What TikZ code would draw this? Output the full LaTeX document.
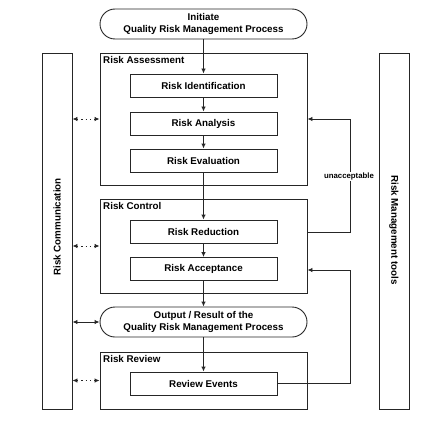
\documentclass[tikz,border=0pt]{standalone}
\usepackage{fontspec}
\setmainfont{Liberation Sans}
\usetikzlibrary{arrows.meta}
\begin{document}
\begin{tikzpicture}[x=1pt,y=1pt,
  every node/.style={font=\fontsize{9.8}{11.3}\selectfont\bfseries},
  ln/.style={draw=black!85,line width=0.9pt},
  frame/.style={ln,rectangle,inner sep=0pt,anchor=center},
  inner/.style={frame,minimum width=147pt,minimum height=23pt},
  term/.style={frame,rounded corners=15pt,minimum width=207pt,minimum height=30pt,align=center},
  arr/.style={ln,-{Latex[length=5pt,width=4.5pt]}},
  darr/.style={ln,{Latex[length=5pt,width=4.5pt]}-{Latex[length=5pt,width=4.5pt]}},
  dotarr/.style={darr,dash pattern=on 1.3pt off 3pt},
  title/.style={anchor=north west,inner sep=0pt}
]
\useasboundingbox (0,0) rectangle (431,-433);
\node[term] (init) at (203.5,-24) {Initiate\\Quality Risk Management Process};
\node[frame,minimum width=207pt,minimum height=132pt] (RA) at (203.5,-119) {};
\node[title] (RAt) at (103,-56) {Risk Assessment};
\node[inner] (ident) at (203.5,-85.5) {Risk Identification};
\node[inner] (anal) at (203.5,-123.5) {Risk Analysis};
\node[inner] (eval) at (203.5,-160.5) {Risk Evaluation};
\node[frame,minimum width=207pt,minimum height=94pt] (RC) at (203.5,-246) {};
\node[title] (RCt) at (103,-202) {Risk Control};
\node[inner] (red) at (203.5,-231.5) {Risk Reduction};
\node[inner] (acc) at (203.5,-269) {Risk Acceptance};
\node[term] (out) at (203.5,-322) {Output / Result of the\\Quality Risk Management Process};
\node[frame,minimum width=207pt,minimum height=57pt] (RR) at (203.5,-380.5) {};
\node[title] (RRt) at (103,-355) {Risk Review};
\node[inner] (rev) at (203.5,-383.5) {Review Events};
\node[frame,minimum width=30pt,minimum height=356pt] (comm) at (57,-231) {};
\node[rotate=90] (commt) at (57,-227) {Risk Communication};
\node[frame,minimum width=30pt,minimum height=356pt] (tools) at (394,-231) {};
\node[rotate=-90] (toolst) at (394,-230) {Risk Management tools};
% main flow
\draw[arr] (init) -- (ident);
\draw[arr] (ident) -- (anal);
\draw[arr] (anal) -- (eval);
\draw[arr] (eval) -- (red);
\draw[arr] (red) -- (acc);
\draw[arr] (acc) -- (out);
\draw[arr] (out) -- (rev);
% communication
\draw[dotarr] (comm.east |- RA.west) -- (RA.west);
\draw[dotarr] (comm.east |- RC.west) -- (RC.west);
\draw[darr] (comm.east |- out.west) -- (out.west);
\draw[dotarr] (comm.east |- RR.west) -- (RR.west);
% feedback loops
\coordinate (f1) at (350,-232);
\coordinate (f2) at (350,-119);
\draw[arr] (RC.east |- f1) -- (f1) -- (f2) -- (RA.east |- f2);
\node[fill=white,inner sep=1pt,font=\fontsize{7.8}{9}\selectfont\bfseries] (unacc) at (349,-176.5) {unacceptable};
\coordinate (f3) at (350,-383.5);
\coordinate (f4) at (350,-270);
\draw[arr] (rev.east) -- (f3) -- (f4) -- (RC.east |- f4);
\end{tikzpicture}
\end{document}
